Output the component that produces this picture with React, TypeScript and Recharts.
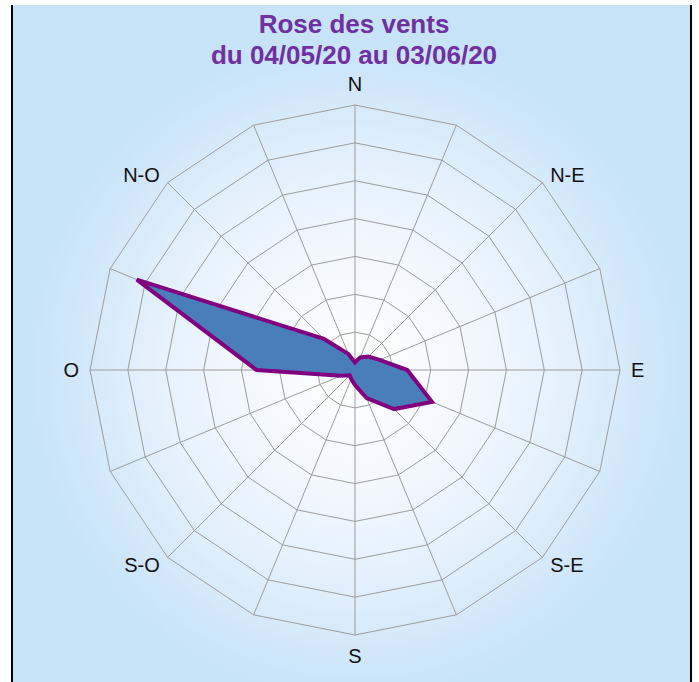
import React from 'react';
import { RadarChart, Radar, PolarGrid, PolarAngleAxis, PolarRadiusAxis } from 'recharts';

// 16 secteurs, dans l'ordre horaire à partir du nord
const directions = ['N', 'NNE', 'N-E', 'ENE', 'E', 'ESE', 'S-E', 'SSE', 'S', 'SSO', 'S-O', 'OSO', 'O', 'ONO', 'N-O', 'NNO'];
// fréquence (%) par secteur
const frequencies = [1, 1.8, 2.5, 3.5, 6.9, 11, 7.3, 4, 2, 1.3, 1, 2, 13, 31.2, 5.8, 2.3];
// seules ces directions sont étiquetées
const shownLabels = ['N', 'N-E', 'E', 'S-E', 'S', 'S-O', 'O', 'N-O'];
const titleLines = ['Rose des vents', 'du 04/05/20 au 03/06/20'];

const CX = 355;
const CY = 370;
const OUTER = 265;

const data = directions.map((dir, i) => ({ dir, value: frequencies[i] }));

const renderTick = (props: any) => {
  const { x, y, payload } = props;
  const label = payload.value;
  if (!shownLabels.includes(label)) return <g />;

  const dx = x - CX;
  const dy = y - CY;
  const d = Math.hypot(dx, dy) || 1;
  const ux = dx / d;
  const uy = dy / d;
  const vertical = Math.abs(ux) < 0.01;
  const r = vertical ? 279 : 276;
  const px = CX + ux * r;
  const py = CY + uy * r;
  const cap = 14.3;
  const anchor = ux > 0.01 ? 'start' : ux < -0.01 ? 'end' : 'middle';
  const baseline = vertical ? (uy < 0 ? py : py + cap) : py + cap / 2;

  return (
    <text x={px} y={baseline} textAnchor={anchor} fontSize={20} fill="#111"
      fontFamily="'Liberation Sans', Arial, sans-serif">
      {label}
    </text>
  );
};

export default function App() {
  return (
    <div style={{ position: 'absolute', left: 0, top: 0, width: 699, height: 682, background: '#fff' }}>
      {/* cadre bleu avec dégradé radial */}
      <div
        style={{
          position: 'absolute',
          left: 11,
          top: 5,
          width: 681,
          height: 677,
          boxSizing: 'border-box',
          borderLeft: '2px solid #000',
          borderRight: '2px solid #000',
          background:
            'radial-gradient(circle 330px at 344px 365px, #ffffff 0%, #f3f8fe 35%, #e2f0fc 65%, #d2e8fa 85%, #c7e3f7 100%)',
        }}
      />

      {/* titre */}
      <div
        style={{
          position: 'absolute',
          left: 0,
          top: 9,
          width: 708,
          textAlign: 'center',
          fontFamily: "'Liberation Sans', Arial, sans-serif",
          fontWeight: 'bold',
          fontSize: 26,
          lineHeight: '31px',
          color: '#7030a0',
        }}
      >
        {titleLines.map((t) => (
          <div key={t}>{t}</div>
        ))}
      </div>

      <div style={{ position: 'absolute', left: 0, top: 0 }}>
        <RadarChart width={699} height={682} data={data} cx={CX} cy={CY} outerRadius={OUTER}
          margin={{ top: 0, right: 0, bottom: 0, left: 0 }}>
          <PolarGrid gridType="polygon" stroke="#9c9c9c" strokeWidth={1} />
          <PolarAngleAxis dataKey="dir" tick={renderTick} tickLine={false} axisLine={false} />
          <PolarRadiusAxis domain={[0, 35]} tickCount={8} tick={false} axisLine={false} />
          <Radar
            dataKey="value"
            fill="#4a7ebb"
            fillOpacity={1}
            stroke="#800080"
            strokeWidth={4}
            dot={false}
            isAnimationActive={false}
          />
        </RadarChart>
      </div>
    </div>
  );
}
